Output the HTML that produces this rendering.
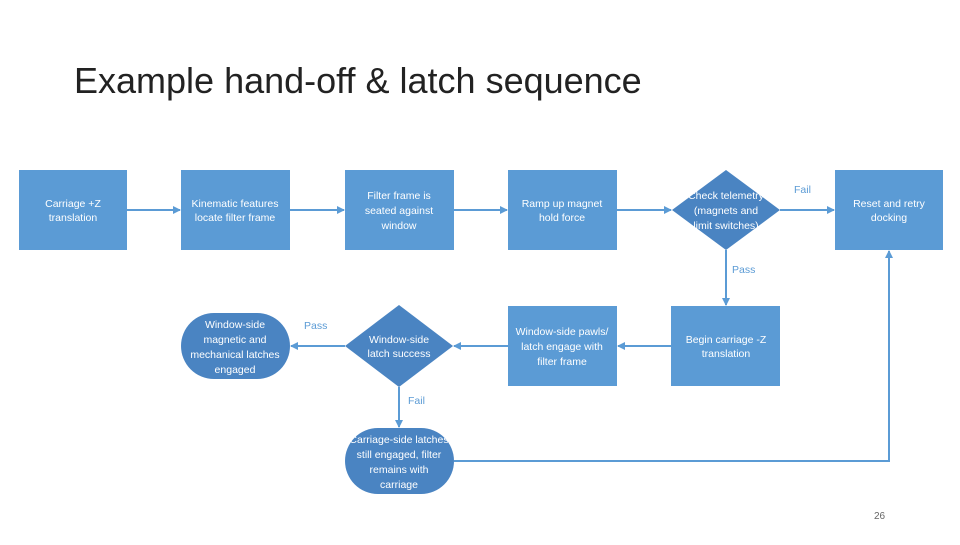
<!DOCTYPE html>
<html><head><style>
body{margin:0;width:960px;height:540px;background:#fff;overflow:hidden;font-family:"Liberation Sans",sans-serif}
</style></head><body>
<svg width="960" height="540" xmlns="http://www.w3.org/2000/svg">
<defs><marker id="a" markerWidth="8" markerHeight="8" refX="7" refY="4" orient="auto" markerUnits="userSpaceOnUse"><path d="M0,0 L8,4 L0,8z" fill="#5b9bd5"/></marker></defs>
<text x="74" y="93" font-size="36" fill="#222" font-family="Liberation Sans" font-weight="300">Example hand-off &amp; latch sequence</text>
<g stroke="#5b9bd5" stroke-width="2" fill="none" marker-end="url(#a)">
<line x1="127" y1="210" x2="180" y2="210"/>
<line x1="290" y1="210" x2="344" y2="210"/>
<line x1="454" y1="210" x2="507" y2="210"/>
<line x1="617" y1="210" x2="671" y2="210"/>
<line x1="780" y1="210" x2="834" y2="210"/>
<line x1="726" y1="250" x2="726" y2="305"/>
<line x1="671" y1="346" x2="618" y2="346"/>
<line x1="508" y1="346" x2="454" y2="346"/>
<line x1="345" y1="346" x2="291" y2="346"/>
<line x1="399" y1="387" x2="399" y2="427"/>
<polyline points="454,461 889,461 889,251"/>
</g>
<g fill="#5b9bd5">
<rect x="19" y="170" width="108" height="80"/>
<rect x="181" y="170" width="109" height="80"/>
<rect x="345" y="170" width="109" height="80"/>
<rect x="508" y="170" width="109" height="80"/>
<rect x="835" y="170" width="108" height="80"/>
<rect x="508" y="306" width="109" height="80"/>
<rect x="671" y="306" width="109" height="80"/>
</g>
<g fill="#4a84c2">
<polygon points="726,170 780,210 726,250 672,210"/>
<polygon points="399,305 453,346 399,387 345,346"/>
<rect x="181" y="313" width="109" height="66" rx="33"/>
<rect x="345" y="428" width="109" height="66" rx="33"/>
</g>
<g fill="#fff" font-size="10.5" text-anchor="middle">
<text x="73" y="207">Carriage +Z</text><text x="73" y="221">translation</text>
<text x="235" y="207">Kinematic features</text><text x="235" y="221">locate filter frame</text>
<text x="399" y="199">Filter frame is</text><text x="399" y="214">seated against</text><text x="399" y="229">window</text>
<text x="562" y="207">Ramp up magnet</text><text x="562" y="221">hold force</text>
<text x="726" y="199">Check telemetry</text><text x="726" y="214">(magnets and</text><text x="726" y="229">limit switches)</text>
<text x="889" y="207">Reset and retry</text><text x="889" y="221">docking</text>
<text x="562" y="335">Window-side pawls/</text><text x="562" y="350">latch engage with</text><text x="562" y="365">filter frame</text>
<text x="726" y="343">Begin carriage -Z</text><text x="726" y="357">translation</text>
<text x="399" y="343">Window-side</text><text x="399" y="357">latch success</text>
<text x="235" y="328">Window-side</text><text x="235" y="343">magnetic and</text><text x="235" y="358">mechanical latches</text><text x="235" y="373">engaged</text>
<text x="399" y="443">Carriage-side latches</text><text x="399" y="458">still engaged, filter</text><text x="399" y="473">remains with</text><text x="399" y="488">carriage</text>
</g>
<g fill="#5b9bd5" font-size="10.5">
<text x="794" y="193">Fail</text>
<text x="732" y="273">Pass</text>
<text x="304" y="329">Pass</text>
<text x="408" y="404">Fail</text>
</g>
<text x="874" y="519" font-size="10" fill="#666">26</text>
</svg>
</body></html>
